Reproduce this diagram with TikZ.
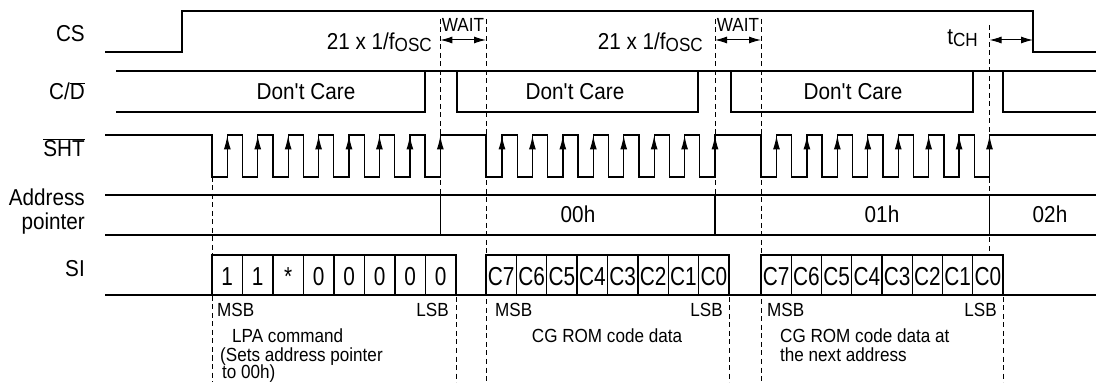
\documentclass[tikz,border=0pt]{standalone}
\usepackage{fontspec}
\setmainfont{Liberation Sans}[FakeStretch=0.9]
\newfontfamily\cellfont{Liberation Sans}[FakeStretch=0.8]
\usetikzlibrary{arrows.meta}
\begin{document}
\begin{tikzpicture}[x=1pt,y=-1pt,
  wave/.style={line width=1.3pt, line join=miter},
  guide/.style={line width=1pt, dash pattern=on 5pt off 3.5pt},
  lbl/.style={font=\fontsize{23}{24}\selectfont, inner sep=0pt},
  sml/.style={font=\fontsize{19}{20}\selectfont, inner sep=0pt},
  cell/.style={font=\cellfont\fontsize{26}{26}\selectfont, inner sep=0pt, anchor=base},
  tip/.style={line width=1.2pt, -{Latex[length=14pt,width=7pt]}},
  dim/.style={{Latex[length=12pt,width=7pt]}-{Latex[length=12pt,width=7pt]}, line width=1pt}
]
\useasboundingbox (0,0) rectangle (1096,390);

% signal labels
\node[lbl, anchor=base east] (lcs) at (85,42) {CS};
\node[lbl, anchor=base east] (lcd) at (85,100) {C/$\overline{\mbox{D}}$};
\node[lbl, anchor=base east] (lsht) at (85,157) {$\overline{\mbox{SHT}}$};
\node[lbl, anchor=base east] (laddr) at (85,206) {Address};
\node[lbl, anchor=base east] (lptr) at (85,230) {pointer};
\node[lbl, anchor=base east] (lsi) at (85,277) {SI};

% CS
\draw[wave] (105,52) -- (182,52) -- (182,11) -- (1033,11) -- (1033,52) -- (1096,52);

% C/D
\draw[wave] (116,71) -- (1096,71);
\draw[wave] (116,112) -- (425,112) -- (425,71);
\draw[wave] (457,71) -- (457,112) -- (698,112) -- (698,71);
\draw[wave] (731,71) -- (731,112) -- (973,112) -- (973,71);
\draw[wave] (1003,71) -- (1003,112) -- (1096,112);
\node[lbl, anchor=base] (dc1) at (306,100) {Don\textquotesingle t Care};
\node[lbl, anchor=base] (dc2) at (575,100) {Don\textquotesingle t Care};
\node[lbl, anchor=base] (dc3) at (853,100) {Don\textquotesingle t Care};

% SHT
\draw[wave] (105,135) -- (212,135) -- (212,177)
  foreach \k in {0,...,6} { -| ({227.3+30.43*\k},135) -| ({242.5+30.43*\k},177) }
  -| (440.3,135) -| (486,177)
  foreach \k in {0,...,6} { -| ({502+30.43*\k},135) -| ({517.2+30.43*\k},177) }
  -| (715,135) -| (761,177)
  foreach \k in {0,...,6} { -| ({776.5+30.43*\k},135) -| ({791.7+30.43*\k},177) }
  -| (989.5,135) -- (1096,135);
\foreach \f in {227.3,502,776.5}
  \foreach \k in {0,...,7}
    \draw[tip] ({\f+30.43*\k},166) -- ({\f+30.43*\k},135.5);

% Address pointer
\draw[wave] (105,195) -- (1096,195);
\draw[wave] (105,235) -- (1096,235);
\draw[wave] (440.3,195) -- (440.3,235);
\draw[wave] (715,195) -- (715,235);
\draw[wave] (989.5,195) -- (989.5,235);
\node[lbl, anchor=base] (a00) at (578,223) {00h};
\node[lbl, anchor=base] (a01) at (882,223) {01h};
\node[lbl, anchor=base] (a02) at (1050,223) {02h};

% SI
\draw[wave] (105,295) -- (212,295);
\draw[wave] (456,295) -- (486,295);
\draw[wave] (729,295) -- (761,295);
\draw[wave] (1003,295) -- (1096,295);
\draw[wave] (212,255) rectangle (456,295);
\draw[wave] (486,255) rectangle (729,295);
\draw[wave] (761,255) rectangle (1003,295);
\foreach \i in {1,...,7} {
  \draw[wave] ({212+30.5*\i},255) -- ++(0,40);
  \draw[wave] ({486+30.375*\i},255) -- ++(0,40);
  \draw[wave] ({761+30.25*\i},255) -- ++(0,40);
}
\foreach \t [count=\i from 0] in {1,1,*,0,0,0,0,0}
  \node[cell] (b\i) at ({212+30.5*\i+15.25},286) {\t};
\foreach \t [count=\i from 0] in {C7,C6,C5,C4,C3,C2,C1,C0}
  \node[cell] (c\i) at ({486+30.375*\i+15.19},286) {\t};
\foreach \t [count=\i from 0] in {C7,C6,C5,C4,C3,C2,C1,C0}
  \node[cell] (d\i) at ({761+30.25*\i+15.12},286) {\t};

% guides
\draw[guide] (212,177) -- (212,382);
\draw[guide] (440.3,19) -- (440.3,195);
\draw[guide] (456,297) -- (456,382);
\draw[guide] (486,19) -- (486,382);
\draw[guide] (715,19) -- (715,195);
\draw[guide] (729,297) -- (729,382);
\draw[guide] (761,19) -- (761,382);
\draw[guide] (989.5,25) -- (989.5,255);
\draw[guide] (1003,297) -- (1003,382);

% timing annotations
\coordinate (w1a) at (440.3,40);
\coordinate (w1b) at (486,40);
\coordinate (w2a) at (715,40);
\coordinate (w2b) at (761,40);
\coordinate (t1a) at (989.5,40);
\coordinate (t1b) at (1033,40);
\draw[dim] (w1a) -- (w1b);
\draw[dim] (w2a) -- (w2b);
\draw[dim] (t1a) -- (t1b);
\node[sml, anchor=base] (wait1) at (463,32) {WAIT};
\node[sml, anchor=base] (wait2) at (738,32) {WAIT};
\node[lbl, anchor=base east] (f1) at (432,50) {21 x 1/f\raisebox{-2pt}{\fontsize{19}{20}\selectfont OSC}};
\node[lbl, anchor=base east] (f2) at (703,50) {21 x 1/f\raisebox{-2pt}{\fontsize{19}{20}\selectfont OSC}};
\node[lbl, anchor=base east] (tch) at (978,45) {t\raisebox{-2pt}{\fontsize{19}{20}\selectfont CH}};

% bit annotations
\node[sml, anchor=base west] (m1) at (217,317) {MSB};
\node[sml, anchor=base east] (l1) at (449,317) {LSB};
\node[sml, anchor=base west] (n1) at (232,343) {LPA command};
\node[sml, anchor=base west] (n2) at (220,361) {(Sets address pointer};
\node[sml, anchor=base west] (n3) at (222,378) {to 00h)};
\node[sml, anchor=base west] (m2) at (495,317) {MSB};
\node[sml, anchor=base east] (l2) at (723,317) {LSB};
\node[sml, anchor=base] (n4) at (607,343) {CG ROM code data};
\node[sml, anchor=base west] (m3) at (767,317) {MSB};
\node[sml, anchor=base east] (l3) at (997,317) {LSB};
\node[sml, anchor=base west] (n5) at (780,343) {CG ROM code data at};
\node[sml, anchor=base west] (n6) at (780,361) {the next address};
\end{tikzpicture}
\end{document}
